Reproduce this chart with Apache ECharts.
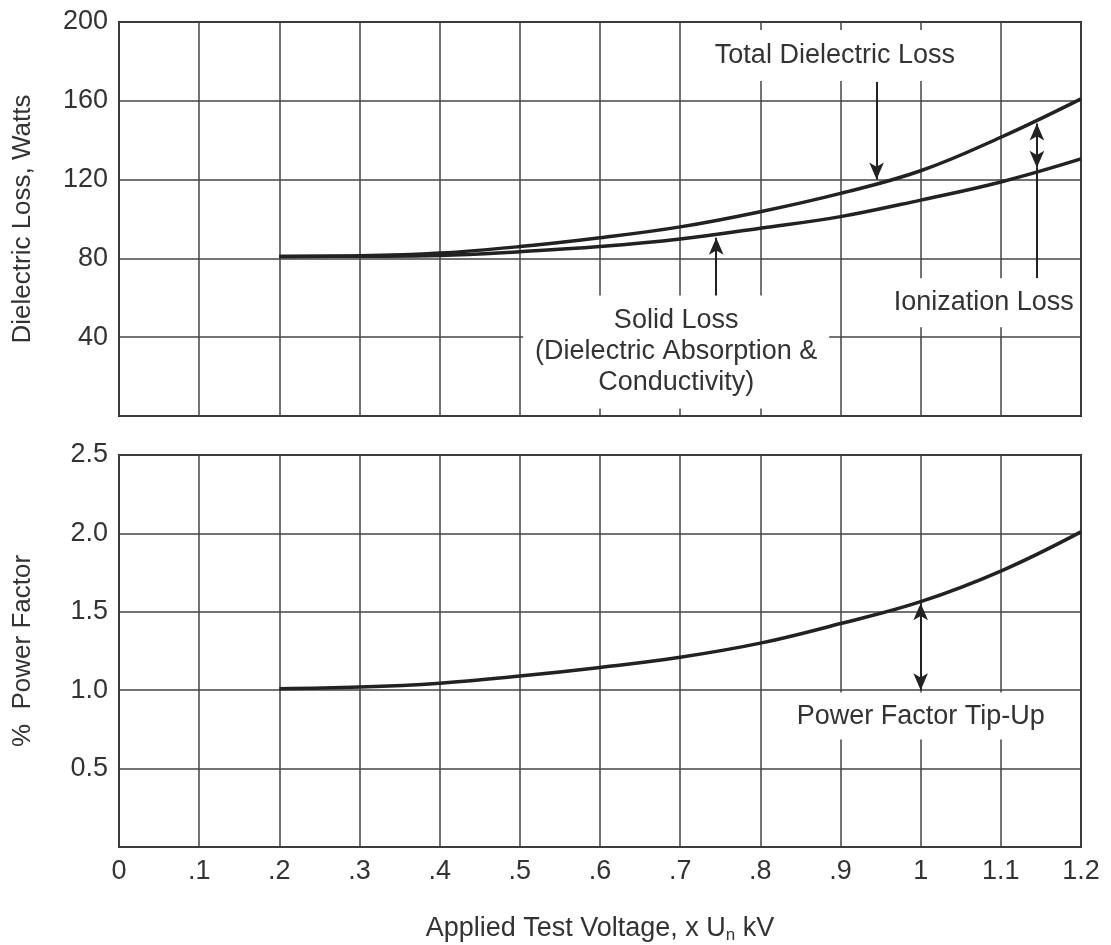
<!DOCTYPE html>
<html>
<head>
<meta charset="utf-8">
<script src="https://cdn.jsdelivr.net/npm/echarts@6/dist/echarts.min.js"></script>
<style>
  html, body { margin: 0; padding: 0; background: #fff; }
  #chart { width: 1111px; height: 945px; }
</style>
</head>
<body>
<div id="chart"></div>
<script>
// applied voltage, x Un
const voltage = [0.2, 0.3, 0.4, 0.5, 0.6, 0.7, 0.8, 0.9, 1.0, 1.1, 1.2];
// dielectric loss, watts
const totalLoss = [81, 81.3, 82.7, 86, 90.5, 96, 103.7, 113, 124.5, 141.5, 161];
const solidLoss = [81, 81.1, 81.5, 83.4, 86, 89.8, 95.3, 101.2, 109.6, 118.8, 130.5];
// % power factor
const powerFactor = [1.01, 1.02, 1.045, 1.09, 1.145, 1.21, 1.30, 1.425, 1.565, 1.76, 2.01];

const xTickLabels = ['0', '.1', '.2', '.3', '.4', '.5', '.6', '.7', '.8', '.9', '1', '1.1', '1.2'];
const lossTickLabels = ['', '40', '80', '120', '160', '200'];
const pfTickLabels = ['', '0.5', '1.0', '1.5', '2.0', '2.5'];

const FONT = 'Liberation Sans, Arial, sans-serif';
const FS = 27;
const TEXT = '#333';
const INK = '#222';

const chart = echarts.init(document.getElementById('chart'));

function pairs(ys) {
  return voltage.map((v, i) => [v, ys[i]]);
}

function boxLabel(text, pad) {
  return {
    show: true,
    position: 'inside',
    formatter: text,
    fontFamily: FONT,
    fontSize: FS,
    lineHeight: 31,
    color: TEXT,
    align: 'center',
    backgroundColor: '#fff',
    padding: pad,
  };
}

function arrow(x, y0, y1, s0, s1) {
  return [
    { coord: [x, y0], symbol: s0 },
    { coord: [x, y1], symbol: s1 },
  ];
}

const splitStyle = { lineStyle: { color: '#444', width: 1.5 } };

const xAxisBase = {
  type: 'value',
  min: 0,
  max: 1.2,
  interval: 0.1,
  axisLine: { show: false },
  axisTick: { show: false },
  splitLine: splitStyle,
};

const option = {
  backgroundColor: '#fff',
  animation: false,
  grid: [
    { left: 119, right: 30, top: 22, bottom: 529, show: true, borderColor: INK, borderWidth: 2 },
    { left: 119, right: 30, top: 455, bottom: 98, show: true, borderColor: INK, borderWidth: 2 },
  ],
  xAxis: [
    Object.assign({}, xAxisBase, { gridIndex: 0, axisLabel: { show: false } }),
    Object.assign({}, xAxisBase, {
      gridIndex: 1,
      axisLabel: {
        fontFamily: FONT,
        fontSize: FS,
        color: TEXT,
        margin: 11,
        formatter: (v) => xTickLabels[Math.round(v * 10)],
      },
      name: 'Applied Test Voltage, x U{sub|n} kV',
      nameLocation: 'middle',
      nameGap: 67,
      nameTextStyle: {
        fontFamily: FONT,
        fontSize: FS,
        color: TEXT,
        rich: {
          sub: { fontFamily: FONT, fontSize: 17, color: TEXT, verticalAlign: 'bottom', padding: [13, 0, 0, 0] },
        },
      },
    }),
  ],
  yAxis: [
    {
      type: 'value',
      gridIndex: 0,
      min: 0,
      max: 200,
      interval: 40,
      axisLine: { show: false },
      axisTick: { show: false },
      splitLine: splitStyle,
      axisLabel: {
        fontFamily: FONT,
        fontSize: FS,
        color: TEXT,
        margin: 11,
        formatter: (v) => lossTickLabels[Math.round(v / 40)],
      },
      name: 'Dielectric Loss, Watts',
      nameLocation: 'middle',
      nameGap: 83,
      nameTextStyle: { fontFamily: FONT, fontSize: 26, color: TEXT },
    },
    {
      type: 'value',
      gridIndex: 1,
      min: 0,
      max: 2.5,
      interval: 0.5,
      axisLine: { show: false },
      axisTick: { show: false },
      splitLine: splitStyle,
      axisLabel: {
        fontFamily: FONT,
        fontSize: FS,
        color: TEXT,
        margin: 11,
        formatter: (v) => pfTickLabels[Math.round(v / 0.5)],
      },
      name: '%  Power Factor',
      nameLocation: 'middle',
      nameGap: 83,
      nameTextStyle: { fontFamily: FONT, fontSize: 26, color: TEXT },
    },
  ],
  series: [
    {
      name: 'Total Dielectric Loss',
      type: 'line',
      xAxisIndex: 0,
      yAxisIndex: 0,
      data: pairs(totalLoss),
      smooth: 0.4,
      showSymbol: false,
      lineStyle: { color: INK, width: 3.5 },
      z: 5,
      markLine: {
        silent: true,
        symbolSize: [11, 17],
        label: { show: false },
        lineStyle: { color: INK, width: 2, type: 'solid' },
        data: [
          arrow(0.945, 169.5, 120, 'none', 'arrow'),
          arrow(1.145, 148.5, 126, 'arrow', 'arrow'),
          arrow(1.145, 126, 70, 'none', 'none'),
          arrow(0.745, 60.5, 90.5, 'none', 'arrow'),
        ],
      },
      markPoint: {
        silent: true,
        symbol: 'rect',
        symbolSize: 0,
        data: [
          { coord: [0.893, 183], label: boxLabel('Total Dielectric Loss', [10, 14]) },
          { coord: [1.075, 57.5], label: boxLabel('Ionization Loss', [9, 4, 9, 10]) },
          { coord: [0.695, 32.5], label: boxLabel('Solid Loss\n(Dielectric Absorption &\nConductivity)', [10, 12]) },
        ],
      },
    },
    {
      name: 'Solid Loss',
      type: 'line',
      xAxisIndex: 0,
      yAxisIndex: 0,
      data: pairs(solidLoss),
      smooth: 0.4,
      showSymbol: false,
      lineStyle: { color: INK, width: 3.5 },
      z: 5,
    },
    {
      name: 'Power Factor',
      type: 'line',
      xAxisIndex: 1,
      yAxisIndex: 1,
      data: pairs(powerFactor),
      smooth: 0.4,
      showSymbol: false,
      lineStyle: { color: INK, width: 3.5 },
      z: 5,
      markLine: {
        silent: true,
        symbolSize: [11, 17],
        label: { show: false },
        lineStyle: { color: INK, width: 2, type: 'solid' },
        data: [arrow(1.0, 1.0, 1.555, 'arrow', 'arrow')],
      },
      markPoint: {
        silent: true,
        symbol: 'rect',
        symbolSize: 0,
        data: [
          { coord: [1.0, 0.835], label: boxLabel('Power Factor Tip-Up', [8, 16]) },
        ],
      },
    },
  ],
};

chart.setOption(option);
</script>
</body>
</html>
